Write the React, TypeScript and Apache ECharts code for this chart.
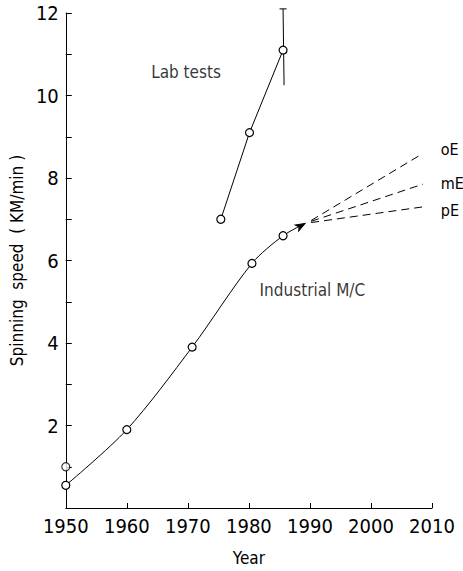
import React, { useEffect, useRef } from "react";
import * as echarts from "echarts";

const FONT = '"Liberation Sans Narrow", "DejaVu Sans Condensed", "Liberation Sans", sans-serif';

// Axes
const xMin = 1950;
const xMax = 2010;
const xStep = 10;
const yMin = 0;
const yMax = 12;
const yStep = 1;

// Industrial machines (M/C)
const industrialYears = [1950, 1960, 1970.7, 1980.5, 1985.6, 1989.2];
const industrialSpeed = [0.55, 1.9, 3.9, 5.93, 6.6, 6.9];
// extra 1950 observation
const industrialExtraYears = [1950];
const industrialExtraSpeed = [1.0];

// Lab tests
const labYears = [1975.4, 1980.1, 1985.6];
const labSpeed = [7.0, 9.1, 11.1];
// error bar on last lab test: [year, low, high]
const labErrYear = [1985.6];
const labErrLow = [10.25];
const labErrHigh = [12.1];

// Extrapolations
const projNames = ["oE", "mE", "pE"];
const projStartYear = [1990.2, 1990.2, 1990.2];
const projStartSpeed = [6.97, 6.95, 6.92];
const projEndYear = [2008.0, 2008.5, 2008.5];
const projEndSpeed = [8.55, 7.85, 7.3];
const projLabelOffsetY = [-6, -1, 4];

// Annotations
const noteTexts = ["Lab tests", "Industrial M/C"];
const noteYears = [1969.7, 1990.4];
const noteSpeeds = [10.58, 5.28];

export default function App() {
  const ref = useRef<HTMLDivElement | null>(null);

  useEffect(() => {
    if (!ref.current) return;
    const chart = echarts.init(ref.current, undefined, { renderer: "svg" });

    const indData = industrialYears.map((y, i) => {
      const last = i === industrialYears.length - 1;
      if (last) {
        return {
          value: [y, industrialSpeed[i]],
          symbol: "arrow",
          symbolSize: [5, 9],
          symbolRotate: -60,
          itemStyle: { color: "#000", borderColor: "#000" },
        };
      }
      return { value: [y, industrialSpeed[i]] };
    });

    const projSeries = projNames.map((name, i) => ({
      name,
      type: "line",
      data: [
        [projStartYear[i], projStartSpeed[i]],
        [projEndYear[i], projEndSpeed[i]],
      ],
      showSymbol: false,
      symbol: "none",
      clip: false,
      lineStyle: { color: "#000", width: 1, type: [8, 5] },
      endLabel: {
        show: true,
        formatter: name,
        color: "#000",
        fontFamily: FONT,
        fontSize: 16,
        distance: 0,
        align: "left",
        offset: [i === 0 ? 21 : 18, projLabelOffsetY[i]],
      },
      z: 2,
    }));

    chart.setOption({
      animation: false,
      backgroundColor: "#fff",
      grid: { left: 64, right: 31, top: 13, bottom: 60, containLabel: false },
      xAxis: {
        type: "value",
        min: xMin,
        max: xMax,
        interval: xStep,
        name: "Year",
        nameLocation: "middle",
        nameGap: 41,
        nameTextStyle: { color: "#000", fontFamily: FONT, fontSize: 17 },
        axisLine: { show: true, lineStyle: { color: "#000", width: 1 } },
        axisTick: { show: true, inside: true, length: 5, lineStyle: { color: "#000" } },
        axisLabel: {
          color: "#000",
          fontFamily: FONT,
          fontSize: 20,
          margin: 8,
          formatter: (v: number) => String(v),
        },
        splitLine: { show: false },
      },
      yAxis: {
        type: "value",
        min: yMin,
        max: yMax,
        interval: yStep,
        name: "Spinning  speed  ( KM/min )",
        nameLocation: "middle",
        nameGap: 32,
        nameRotate: 90,
        nameTextStyle: { color: "#000", fontFamily: FONT, fontSize: 17 },
        axisLine: { show: true, lineStyle: { color: "#000", width: 1 } },
        axisTick: { show: true, inside: true, length: 6, lineStyle: { color: "#000" } },
        axisLabel: {
          color: "#000",
          fontFamily: FONT,
          fontSize: 20,
          margin: 7,
          formatter: (v: number) => (v !== 0 && v % 2 === 0 ? String(v) : ""),
        },
        splitLine: { show: false },
      },
      series: [
        {
          name: "Industrial M/C",
          type: "line",
          data: indData,
          smooth: 0.3,
          symbol: "circle",
          symbolSize: 8,
          showAllSymbol: true,
          lineStyle: { color: "#000", width: 1 },
          itemStyle: { color: "#fff", borderColor: "#000", borderWidth: 1.2 },
          z: 3,
        },
        {
          name: "Industrial M/C extra",
          type: "scatter",
          data: industrialExtraYears.map((y, i) => [y, industrialExtraSpeed[i]]),
          symbol: "circle",
          symbolSize: 8,
          itemStyle: { color: "#fff", borderColor: "#000", borderWidth: 1.2 },
          clip: false,
          z: 4,
        },
        {
          name: "Lab error",
          type: "custom",
          clip: false,
          data: labErrYear.map((y, i) => [y, labErrLow[i], labErrHigh[i]]),
          renderItem: (_params: any, api: any) => {
            const x = api.value(0);
            const top = api.coord([x, api.value(2)]);
            const bot = api.coord([x, api.value(1)]);
            return {
              type: "group",
              children: [
                {
                  type: "line",
                  shape: { x1: top[0], y1: top[1], x2: bot[0] + 1, y2: bot[1] },
                  style: { stroke: "#000", lineWidth: 1 },
                },
                {
                  type: "line",
                  shape: { x1: top[0] - 3.5, y1: top[1], x2: top[0] + 3.5, y2: top[1] },
                  style: { stroke: "#000", lineWidth: 1 },
                },
              ],
            };
          },
          z: 2,
        },
        {
          name: "Lab tests",
          type: "line",
          data: labYears.map((y, i) => [y, labSpeed[i]]),
          symbol: "circle",
          symbolSize: 8,
          lineStyle: { color: "#000", width: 1 },
          itemStyle: { color: "#fff", borderColor: "#000", borderWidth: 1.2 },
          clip: false,
          z: 3,
        },
        ...projSeries,
        {
          name: "Notes",
          type: "scatter",
          data: noteTexts.map((t, i) => ({ name: t, value: [noteYears[i], noteSpeeds[i]] })),
          symbolSize: 0,
          clip: false,
          label: {
            show: true,
            position: "inside",
            formatter: "{b}",
            color: "#000",
            fontFamily: FONT,
            fontSize: 17,
          },
          z: 5,
        },
      ],
    });

    return () => {
      chart.dispose();
    };
  }, []);

  return (
    <div
      ref={ref}
      style={{ position: "fixed", left: 0, top: 0, width: 463, height: 571, background: "#fff" }}
    />
  );
}
